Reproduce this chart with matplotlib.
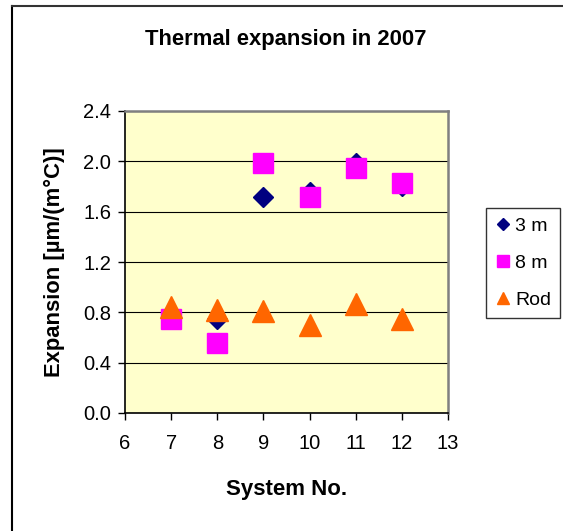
import matplotlib.pyplot as plt
from matplotlib.lines import Line2D
from matplotlib.ticker import FormatStrFormatter

plt.rcParams['font.family'] = ['Liberation Sans', 'DejaVu Sans']

# data
systems = [7, 8, 9, 10, 11, 12]
exp_3m = [0.77, 0.75, 1.72, 1.76, 1.99, 1.80]
exp_8m = [0.75, 0.56, 1.99, 1.72, 1.95, 1.83]
exp_rod = [0.84, 0.82, 0.81, 0.70, 0.87, 0.75]
labels = ['3 m', '8 m', 'Rod']

fig = plt.figure(figsize=(5.63, 5.31), dpi=100)
ax = fig.add_axes([125 / 563, 1 - 413 / 531, 323 / 563, 302 / 531])
ax.set_facecolor('#FFFFCC')

ax.plot(systems, exp_3m, 'D', color='#000080', markersize=10.5, label=labels[0], zorder=3)
ax.plot(systems, exp_8m, 's', color='#FF00FF', markersize=15, label=labels[1], zorder=4)
ax.plot(systems, exp_rod, '^', color='#FF6600', markersize=15.5, label=labels[2], zorder=5)

ax.set_xlim(6, 13)
ax.set_ylim(0, 2.4)
ax.set_xticks(range(6, 14))
ax.set_yticks([0, 0.4, 0.8, 1.2, 1.6, 2.0, 2.4])
ax.yaxis.set_major_formatter(FormatStrFormatter('%.1f'))
ax.grid(axis='y', color='black', linewidth=0.8)
ax.set_axisbelow(True)
ax.tick_params(labelsize=14.5, length=5, width=1, color='black')
ax.tick_params(axis='x', pad=10)
ax.tick_params(axis='y', pad=5)

for s in ['left', 'bottom']:
    ax.spines[s].set_color('black')
    ax.spines[s].set_linewidth(1.2)
for s in ['top', 'right']:
    ax.spines[s].set_color('#808080')
    ax.spines[s].set_linewidth(1.8)

ax.set_xlabel('System No.', fontsize=16, fontweight='bold', labelpad=19)
ax.set_ylabel('Expansion [µm/(m°C)]', fontsize=15.8, fontweight='bold', labelpad=13)
fig.text(286 / 563, 1 - 40 / 531, 'Thermal expansion in 2007', ha='center', va='center',
         fontsize=15.8, fontweight='bold')

leg = ax.legend(loc='center left', bbox_to_anchor=(486 / 563, 1 - 263 / 531),
                bbox_transform=fig.transFigure, fontsize=14, markerscale=0.6,
                frameon=True, fancybox=False, edgecolor='#333333', framealpha=1,
                handlelength=0.8, handletextpad=0.25, labelspacing=1.0, borderpad=0.45,
                borderaxespad=0)
leg.get_frame().set_linewidth(1.0)

# outer chart frame (left and top edges visible)
fig.add_artist(Line2D([12 / 563, 12 / 563], [0, 1 - 6 / 531], color='black', linewidth=1.5))
fig.add_artist(Line2D([12 / 563, 1], [1 - 6 / 531, 1 - 6 / 531], color='#333333', linewidth=1.5))

fig.savefig('out.png', dpi=100)
